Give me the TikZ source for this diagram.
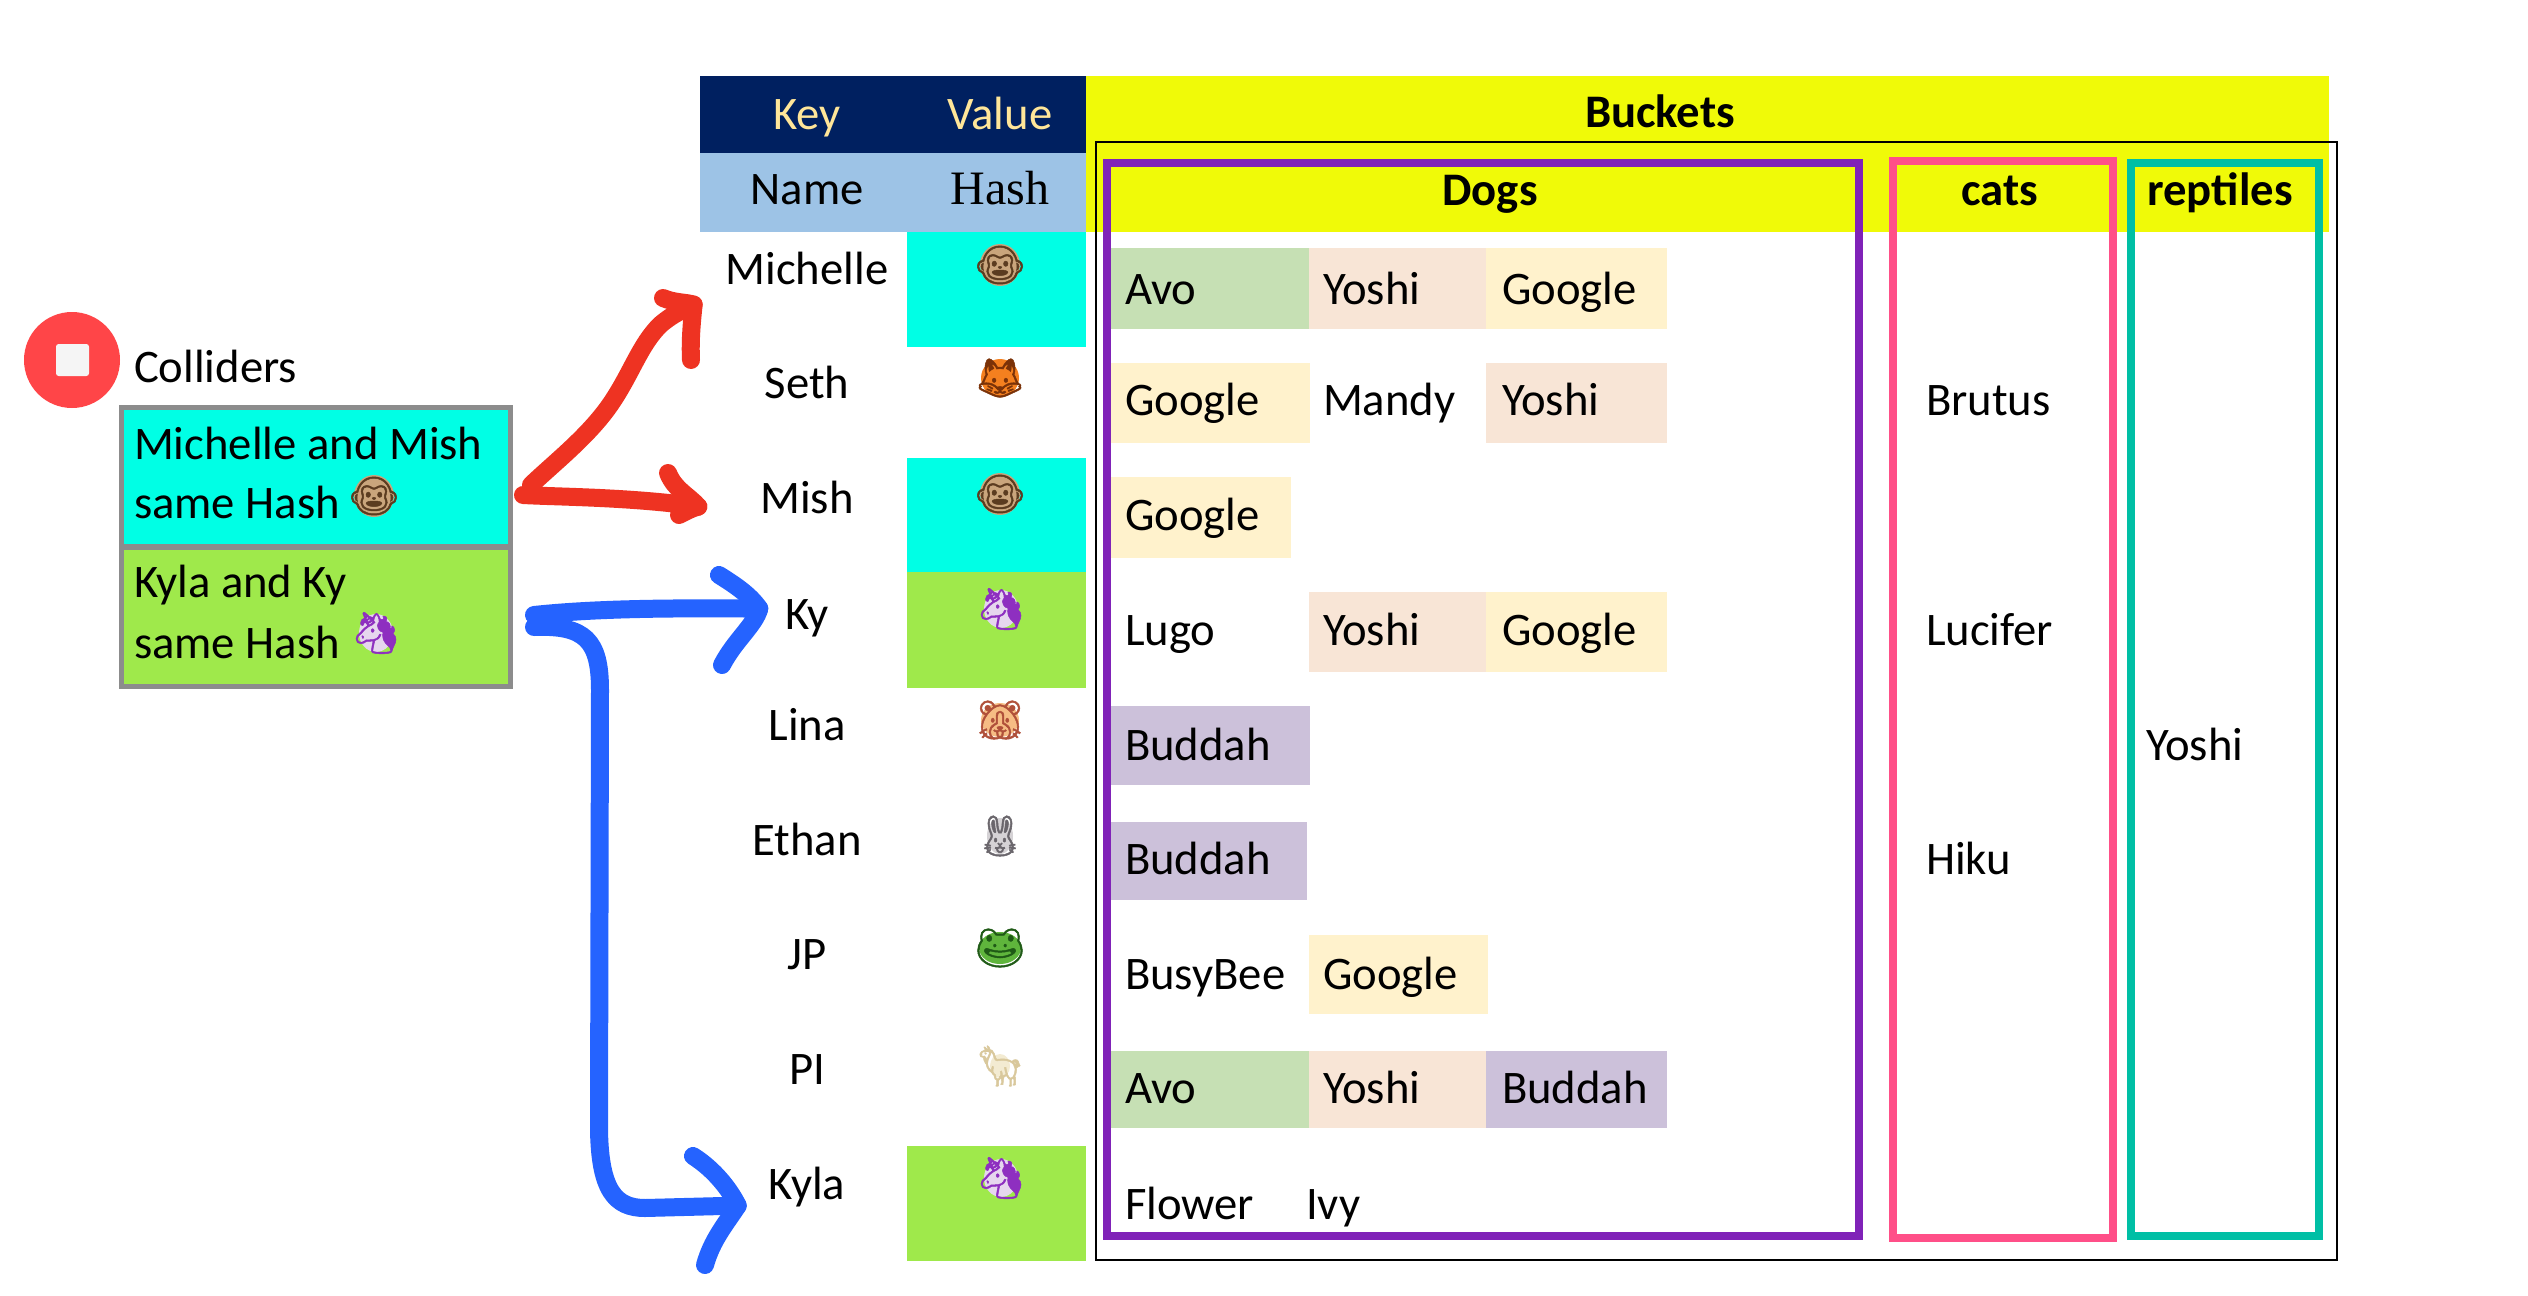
\documentclass[tikz,border=0pt]{standalone}
\usepackage{fontspec}
\setmainfont{Carlito}
\newfontfamily\serifhead{Liberation Serif}
\newfontfamily\emo[FakeBold=1.2]{Noto Emoji}
\definecolor{navyhdr}{HTML}{002060}
\definecolor{creamtxt}{HTML}{FFE699}
\definecolor{skyhdr}{HTML}{9DC3E6}
\definecolor{yellowhdr}{HTML}{F0FA08}
\definecolor{aquacell}{HTML}{00FFE5}
\definecolor{limecell}{HTML}{9FE94B}
\definecolor{greencell}{HTML}{C6E0B4}
\definecolor{peachcell}{HTML}{F8E5D6}
\definecolor{creamcell}{HTML}{FFF2CC}
\definecolor{lilaccell}{HTML}{CCC1DA}
\definecolor{redpen}{HTML}{EE3322}
\definecolor{bluepen}{HTML}{2563FF}
\definecolor{purpleframe}{HTML}{8022B8}
\definecolor{pinkframe}{HTML}{FF4F88}
\definecolor{tealframe}{HTML}{00BFA5}
\definecolor{stopred}{HTML}{FF4548}
\definecolor{monkeyfill}{HTML}{C9A57C}
\definecolor{monkeyline}{HTML}{5B3C20}
\definecolor{foxfill}{HTML}{F4801F}
\definecolor{foxline}{HTML}{7A3208}
\definecolor{unifill}{HTML}{E6D6EE}
\definecolor{uniline}{HTML}{8E2FC0}
\definecolor{hamfill}{HTML}{F6BC84}
\definecolor{hamline}{HTML}{B0503A}
\definecolor{rabfill}{HTML}{D5D2D5}
\definecolor{rabline}{HTML}{6A666C}
\definecolor{frogfill}{HTML}{5FB53C}
\definecolor{frogline}{HTML}{1F5A16}
\definecolor{llamaline}{HTML}{D9C89C}
\definecolor{llamafill}{HTML}{F3EBD2}
\tikzset{
  txt/.style={inner sep=0pt,outer sep=0pt,yshift=-1.2pt,font=\fontsize{35}{40}\selectfont,text=black},
  lbl/.style={txt,anchor=base west},
  ctr/.style={txt,anchor=base},
  hd/.style={ctr,font=\fontsize{35}{40}\selectfont\bfseries},
  em/.style={inner sep=0pt,outer sep=0pt,anchor=center,font=\emo\fontsize{30}{34}\selectfont},
  framebox/.style={line width=6pt},
  stroke/.style={line width=13.5pt,line cap=round,line join=round},
  collider/.style={draw=black!45,line width=3.5pt,anchor=north west,inner sep=0pt,minimum width=292pt,minimum height=104.5pt},
}
% name, x, y, fill, x radius, y radius, line colour, glyph
\newcommand\emojibody[8]{%
  \fill[#4] (#2,#3) ellipse [x radius=#5,y radius=#6];
  \node[em,text=#7] (#1) at (#2,#3) {#8};}
\begin{document}
\begin{tikzpicture}[x=0.75pt,y=-0.75pt]
\path[use as bounding box,fill=white] (0,0) rectangle (2528,1296);
% header bands
\fill[navyhdr] (700,76) rectangle (1086,153);
\fill[skyhdr] (700,153) rectangle (1086,232);
\fill[yellowhdr] (1086,76) rectangle (2329,232);
% hash cells
\fill[aquacell] (907,232) rectangle (1086,347);
\fill[aquacell] (907,458) rectangle (1086,572);
\fill[limecell] (907,572) rectangle (1086,688);
\fill[limecell] (907,1146) rectangle (1086,1261);
% bucket cells
\fill[greencell] (1111,248) rectangle (1309,329);
\fill[peachcell] (1309,248) rectangle (1486,329);
\fill[creamcell] (1486,248) rectangle (1667,329);
\fill[creamcell] (1111,363) rectangle (1310,443);
\fill[peachcell] (1486,363) rectangle (1667,443);
\fill[creamcell] (1111,477) rectangle (1291,558);
\fill[peachcell] (1309,592) rectangle (1486,672);
\fill[creamcell] (1486,592) rectangle (1667,672);
\fill[lilaccell] (1111,706) rectangle (1310,785);
\fill[lilaccell] (1111,822) rectangle (1307,900);
\fill[creamcell] (1309,935) rectangle (1488,1014);
\fill[greencell] (1111,1051) rectangle (1309,1128);
\fill[peachcell] (1309,1051) rectangle (1486,1128);
\fill[lilaccell] (1486,1051) rectangle (1667,1128);
% frames
\draw[black,line width=2.2pt] (1096,142) rectangle (2337,1260);
\draw[purpleframe,framebox] (1107,163) rectangle (1859,1236);
\draw[pinkframe,framebox] (1893,161) rectangle (2113,1238);
\draw[tealframe,framebox] (2131,163) rectangle (2319,1236);
% header text
\node[ctr,text=creamtxt] (hkey) at (807,128) {Key};
\node[ctr,text=creamtxt] (hvalue) at (1000,128) {Value};
\node[ctr] (hname) at (807,203) {Name};
\node[ctr,font=\serifhead\fontsize{36}{40}\selectfont] (hhash) at (1000,203) {Hash};
\node[hd] (buckets) at (1660,126) {Buckets};
\node[hd] (dogs) at (1490,204) {Dogs};
\node[hd] (cats) at (2000,204) {cats};
\node[hd] (reptiles) at (2220,204) {reptiles};
% names
\node[ctr] (michelle) at (807,283) {Michelle};
\node[ctr] (seth) at (807,397) {Seth};
\node[ctr] (mish) at (807,512) {Mish};
\node[ctr] (ky) at (807,628) {Ky};
\node[ctr] (lina) at (807,739) {Lina};
\node[ctr] (ethan) at (807,854) {Ethan};
\node[ctr] (jp) at (807,968) {JP};
\node[ctr] (pi) at (807,1083) {PI};
\node[ctr] (kyla) at (807,1198) {Kyla};
% hash emoji
\emojibody{e1}{1000}{265}{monkeyfill}{20}{21}{monkeyline}{🐵}
\emojibody{e2}{1000}{378}{foxfill}{19}{19}{foxline}{🦊}
\emojibody{e3}{1000}{494}{monkeyfill}{20}{21}{monkeyline}{🐵}
\emojibody{e4}{1001}{609}{unifill}{17}{19}{uniline}{🦄}
\emojibody{e5}{1000}{720}{hamfill}{19}{17}{hamline}{🐹}
\emojibody{e6}{1000}{836}{rabfill}{13}{18}{rabline}{🐰}
\emojibody{e7}{1000}{948}{frogfill}{21}{16}{frogline}{🐸}
\emojibody{e8}{1000}{1066}{llamafill}{10}{12}{llamaline}{🦙}
\emojibody{e9}{1001}{1178}{unifill}{17}{19}{uniline}{🦄}
% dogs text
\node[lbl] (d11) at (1125,303) {Avo};
\node[lbl] (d12) at (1323,303) {Yoshi};
\node[lbl] (d13) at (1502,303) {Google};
\node[lbl] (d21) at (1125,414) {Google};
\node[lbl] (d22) at (1323,414) {Mandy};
\node[lbl] (d23) at (1502,414) {Yoshi};
\node[lbl] (d31) at (1125,529) {Google};
\node[lbl] (d41) at (1125,644) {Lugo};
\node[lbl] (d42) at (1323,644) {Yoshi};
\node[lbl] (d43) at (1502,644) {Google};
\node[lbl] (d51) at (1125,759) {Buddah};
\node[lbl] (d61) at (1125,873) {Buddah};
\node[lbl] (d71) at (1125,988) {BusyBee};
\node[lbl] (d72) at (1323,988) {Google};
\node[lbl] (d81) at (1125,1102) {Avo};
\node[lbl] (d82) at (1323,1102) {Yoshi};
\node[lbl] (d83) at (1502,1102) {Buddah};
\node[lbl] (d91) at (1125,1218) {Flower};
\node[lbl] (d92) at (1306,1218) {Ivy};
% cats and reptiles
\node[lbl] (c1) at (1926,414) {Brutus};
\node[lbl] (c2) at (1926,644) {Lucifer};
\node[lbl] (c3) at (1926,873) {Hiku};
\node[lbl] (r1) at (2146,759) {Yoshi};
% colliders
\fill[stopred] (72,360) circle (48);
\fill[black!4,rounded corners=2pt] (56,344) rectangle (89,376);
\node[lbl] (colliders) at (134,381) {Colliders};
\node[collider,fill=aquacell] (mm) at (119,405) {};
\node[collider,fill=limecell] (kk) at (119,545) {};
\node[lbl] (t1) at (134,458) {Michelle and Mish};
\node[lbl] (t2) at (134,517) {same Hash};
\emojibody{e10}{374}{496}{monkeyfill}{20}{21}{monkeyline}{🐵}
\node[lbl] (t3) at (134,596) {Kyla and Ky};
\node[lbl] (t4) at (134,657) {same Hash};
\emojibody{e11}{376}{633}{unifill}{17}{19}{uniline}{🦄}
% red arrows
\coordinate (r1s) at ([shift={(18,8)}]mm.east);
\coordinate (r2s) at ([shift={(10,18)}]mm.east);
\coordinate (r1t) at ([shift={(-32,20)}]michelle.base west);
\coordinate (r2t) at ([shift={(-62,-7)}]mish.base west);
\draw[redpen,stroke] (r1s) .. controls (555,462) and (590,435) .. (612,402) .. controls (632,372) and (640,345) .. (660,325) .. controls (675,312) and (688,308) .. (r1t);
\draw[redpen,stroke] (663,298) .. controls (675,303) and (685,302) .. (r1t) .. controls (692,320) and (690,340) .. (691,360);
\draw[redpen,stroke] (r2s) .. controls (560,497) and (630,497) .. (r2t);
\draw[redpen,stroke] (668,473) .. controls (675,490) and (688,495) .. (r2t) .. controls (692,508) and (685,512) .. (679,515);
% blue arrows
\coordinate (b1s) at ([shift={(21,-2)}]kk.east);
\coordinate (b2s) at ([shift={(21,10)}]kk.east);
\coordinate (b1t) at ([shift={(-26,-21)}]ky.base west);
\coordinate (b2t) at ([shift={(-31,6)}]kyla.base west);
\draw[bluepen,stroke] (b1s) .. controls (600,608) and (680,608) .. (b1t);
\draw[bluepen,stroke] (719,575) .. controls (735,585) and (750,595) .. (b1t) .. controls (755,625) and (735,640) .. (722,665);
\draw[bluepen,stroke] (b2s) .. controls (585,625) and (600,640) .. (600,690) -- (599,1130) .. controls (600,1190) and (615,1208) .. (645,1208) -- (b2t);
\draw[bluepen,stroke] (693,1156) .. controls (715,1170) and (730,1190) .. (b2t) .. controls (725,1225) and (712,1240) .. (705,1265);
\end{tikzpicture}
\end{document}
